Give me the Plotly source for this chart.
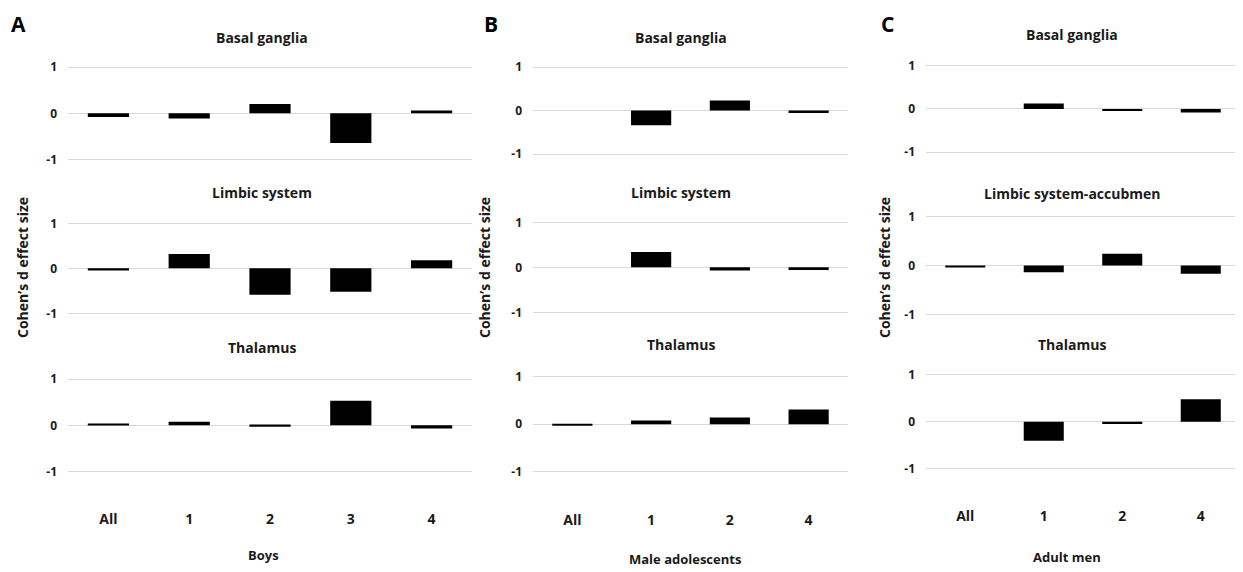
import plotly.graph_objects as go

W, H = 1243, 572
OFF = 8  # default page body margin
FW, FH = W - OFF, H - OFF

cats_A = ["All", "1", "2", "3", "4"]
cats_BC = ["All", "1", "2", "4"]

A_basal = [-0.08, -0.11, 0.20, -0.64, 0.06]
A_limbic = [-0.05, 0.32, -0.59, -0.52, 0.18]
A_thal = [0.04, 0.08, -0.03, 0.53, -0.07]

B_basal = [None, -0.34, 0.23, -0.06]
B_limbic = [None, 0.34, -0.07, -0.06]
B_thal = [-0.02, 0.08, 0.14, 0.31]

C_basal = [None, 0.13, -0.03, -0.08]
C_limbic = [-0.03, -0.14, 0.24, -0.17]
C_thal = [None, -0.41, -0.05, 0.48]

row_titles_A = ["Basal ganglia", "Limbic system", "Thalamus"]
row_titles_B = ["Basal ganglia", "Limbic system", "Thalamus"]
row_titles_C = ["Basal ganglia", "Limbic system-accubmen", "Thalamus"]
group_titles = ["Boys", "Male adolescents", "Adult men"]
panel_letters = ["A", "B", "C"]
y_title = "Cohen’s d effect size"

FONT = "Open Sans"


def px(x):
    return (x - OFF) / FW


def py(y):
    return 1 - (y - OFF) / FH


panels = [
    dict(cats=cats_A, series=[A_basal, A_limbic, A_thal], titles=row_titles_A,
         x0=68, x1=472, grid=[(67, 159.7), (223.3, 313.3), (379, 471.7)],
         title_x=262, title_y=[37, 192, 347], letter=(18, 21), ytitle_x=22, xtitle=(263, 555)),
    dict(cats=cats_BC, series=[B_basal, B_limbic, B_thal], titles=row_titles_B,
         x0=533, x1=848, grid=[(67, 154), (222.3, 312.3), (376.7, 471.7)],
         title_x=681, title_y=[37, 192, 345], letter=(491, 19), ytitle_x=484, xtitle=(685, 559)),
    dict(cats=cats_BC, series=[C_basal, C_limbic, C_thal], titles=row_titles_C,
         x0=926, x1=1240, grid=[(65.7, 152.3), (216.7, 314.3), (375, 468.3)],
         title_x=1072, title_y=[35, 193, 344], letter=(887, 21), ytitle_x=884, xtitle=(1067, 557)),
]

fig = go.Figure()
layout = {}
annotations = []
PAD = 0.25
idx = 0
for p_i, p in enumerate(panels):
    for r in range(3):
        idx += 1
        xa = "x" if idx == 1 else f"x{idx}"
        ya = "y" if idx == 1 else f"y{idx}"
        fig.add_trace(go.Bar(
            x=p["cats"], y=p["series"][r], xaxis=xa, yaxis=ya,
            marker=dict(color="black", line=dict(width=0)),
            showlegend=False, hoverinfo="x+y",
        ))
        yt, yb = p["grid"][r]
        u = (yb - yt) / 2.0
        top = yt - PAD * u
        bot = yb + PAD * u
        xkey = "xaxis" if idx == 1 else f"xaxis{idx}"
        ykey = "yaxis" if idx == 1 else f"yaxis{idx}"
        layout[xkey] = dict(
            domain=[px(p["x0"]), min(px(p["x1"]), 1.0)], anchor=ya,
            type="category", categoryorder="array", categoryarray=p["cats"],
            showgrid=False, zeroline=False, showline=False, ticks="",
            showticklabels=(r == 2), ticklabelstandoff=26,
            tickfont=dict(family=FONT, size=14, color="#1a1a1a", weight="bold"),
            fixedrange=True,
        )
        layout[ykey] = dict(
            domain=[py(bot), py(top)], anchor=xa,
            range=[-1 - PAD, 1 + PAD], tickvals=[-1, 0, 1], ticktext=["-1", "0", "1"],
            showgrid=True, gridcolor="#d9d9d9", gridwidth=1,
            zeroline=False, showline=False, ticks="", ticklabelstandoff=10,
            tickfont=dict(family=FONT, size=12, color="#1a1a1a", weight="bold"),
            fixedrange=True,
        )
        annotations.append(dict(
            x=px(p["title_x"]), y=py(p["title_y"][r]), xref="paper", yref="paper",
            text=p["titles"][r], showarrow=False, xanchor="center", yanchor="middle",
            font=dict(family=FONT, size=14, color="#1a1a1a", weight="bold"),
        ))
    annotations.append(dict(
        x=px(p["letter"][0]), y=1.0, xref="paper", yref="paper",
        text=panel_letters[p_i], showarrow=False, xanchor="center", yanchor="top",
        font=dict(family=FONT, size=21, color="black", weight="bold"),
    ))
    annotations.append(dict(
        x=px(p["ytitle_x"]), y=py(268), xref="paper", yref="paper",
        text=y_title, showarrow=False, textangle=-90, xanchor="center", yanchor="middle",
        font=dict(family=FONT, size=14, color="#1a1a1a", weight="bold"),
    ))
    annotations.append(dict(
        x=px(p["xtitle"][0]), y=py(p["xtitle"][1]), xref="paper", yref="paper",
        text=group_titles[p_i], showarrow=False, xanchor="center", yanchor="middle",
        font=dict(family=FONT, size=13, color="#1a1a1a", weight="bold"),
    ))

fig.update_layout(
    width=FW, height=FH, margin=dict(l=0, r=0, t=0, b=0),
    paper_bgcolor="white", plot_bgcolor="white",
    bargap=0.49, annotations=annotations, showlegend=False,
    **layout,
)

fig.write_html("out.html", include_plotlyjs=True, config={"displayModeBar": False})
